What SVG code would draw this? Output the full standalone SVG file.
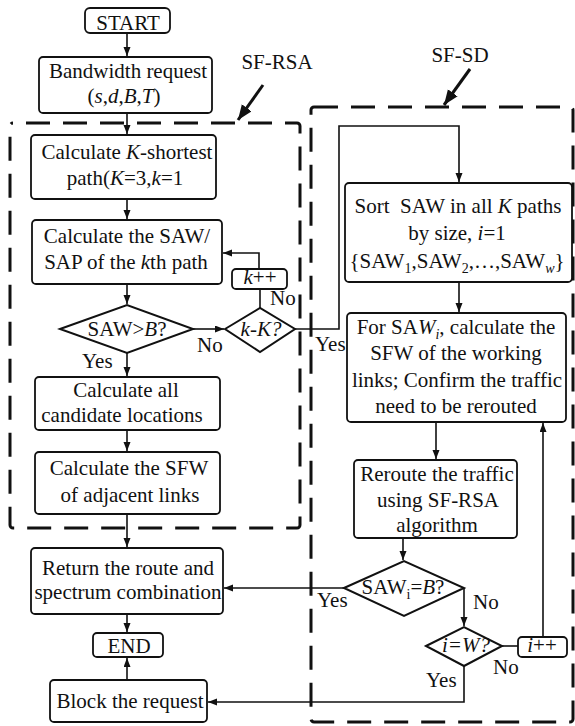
<svg xmlns="http://www.w3.org/2000/svg" width="575" height="726" viewBox="0 0 575 726">
  <style>
    .box { fill: #fff; stroke: #111; stroke-width: 1.8; }
    .dia { fill: #fff; stroke: #111; stroke-width: 2; }
    .t { font-family: "Liberation Serif", "Times New Roman", serif; font-size: 21px; fill: #111; text-anchor: middle; }
    .l { text-anchor: start; }
    .i { font-style: italic; }
    .conn { fill: none; stroke: #111; stroke-width: 1.6; }
    .region { fill: none; stroke: #111; stroke-width: 3; stroke-dasharray: 24 13; }
    .pointer { fill: none; stroke: #111; stroke-width: 3; }
  </style>
  <defs>
    <marker id="arrow" markerUnits="userSpaceOnUse" markerWidth="10" markerHeight="8" refX="9" refY="3.5" orient="auto">
      <path d="M0,0 L9,3.5 L0,7 z" fill="#111"/>
    </marker>
    <marker id="bigArrow" markerUnits="userSpaceOnUse" markerWidth="16" markerHeight="14" refX="15" refY="6" orient="auto">
      <path d="M0,0 L15,6 L0,12 z" fill="#111"/>
    </marker>
  </defs>

  <rect id="bg" width="575" height="726" fill="#fff"/>

  <!-- dashed regions -->
  <g id="regions">
    <rect id="sf-rsa-region" class="region" x="10" y="123" width="290" height="405" rx="3" stroke-dashoffset="-13"/>
    <rect id="sf-sd-region" class="region" x="311" y="107" width="262" height="615" rx="3"/>
    <line class="pointer" x1="263" y1="85" x2="238" y2="120" marker-end="url(#bigArrow)"/>
    <line class="pointer" x1="470" y1="69" x2="444" y2="105" marker-end="url(#bigArrow)"/>
    <text class="t" x="277" y="69">SF-RSA</text>
    <text class="t" x="460" y="62">SF-SD</text>
  </g>

  <!-- connectors -->
  <g id="connectors">
    <path class="conn" d="M127,33 V56" marker-end="url(#arrow)"/>
    <path class="conn" d="M127,113 V134" marker-end="url(#arrow)"/>
    <path class="conn" d="M127,199 V219" marker-end="url(#arrow)"/>
    <path class="conn" d="M127,284 V304" marker-end="url(#arrow)"/>
    <path class="conn" d="M193,329 H224" marker-end="url(#arrow)"/>
    <path class="conn" d="M260,308 V289"/>
    <path class="conn" d="M259,269 V253 H223" marker-end="url(#arrow)"/>
    <path class="conn" d="M127,353 V376" marker-end="url(#arrow)"/>
    <path class="conn" d="M127,430 V451" marker-end="url(#arrow)"/>
    <path class="conn" d="M127,514 V547" marker-end="url(#arrow)"/>
    <path class="conn" d="M127,614 V632" marker-end="url(#arrow)"/>
    <path class="conn" d="M127,680 V658" marker-end="url(#arrow)"/>
    <path class="conn" d="M295,329 H339 V126 H459 V182" marker-end="url(#arrow)"/>
    <path class="conn" d="M459,282 V312" marker-end="url(#arrow)"/>
    <path class="conn" d="M436,422 V459" marker-end="url(#arrow)"/>
    <path class="conn" d="M403,538 V560" marker-end="url(#arrow)"/>
    <path class="conn" d="M344,588 H224" marker-end="url(#arrow)"/>
    <path class="conn" d="M464,588 V626" marker-end="url(#arrow)"/>
    <path class="conn" d="M502,646 H518"/>
    <path class="conn" d="M543,637 V423" marker-end="url(#arrow)"/>
    <path class="conn" d="M464,666 V702 H208" marker-end="url(#arrow)"/>
    <!-- branch labels -->
    <text class="t l" x="270" y="305">No</text>
    <text class="t l" x="197" y="352">No</text>
    <text class="t l" x="82" y="368">Yes</text>
    <text class="t l" x="315" y="351">Yes</text>
    <text class="t l" x="317" y="607">Yes</text>
    <text class="t l" x="473" y="609">No</text>
    <text class="t l" x="426" y="687">Yes</text>
    <text class="t l" x="493" y="674">No</text>
  </g>

  <!-- left column -->
  <g id="start">
    <rect class="box" x="85" y="8" width="85" height="25" rx="5"/>
    <text class="t" x="128" y="30">START</text>
  </g>
  <g id="bandwidth-request">
    <rect class="box" x="39" y="57" width="173" height="56" rx="4"/>
    <text class="t" x="128" y="78">Bandwidth request</text>
    <text class="t" x="124" y="103">(<tspan class="i">s</tspan>,<tspan class="i">d</tspan>,<tspan class="i">B</tspan>,<tspan class="i">T</tspan>)</text>
  </g>
  <g id="k-shortest">
    <rect class="box" x="31" y="135" width="185" height="64" rx="4"/>
    <text class="t" x="127" y="159">Calculate <tspan class="i">K</tspan>-shortest</text>
    <text class="t" x="125" y="185">path(<tspan class="i">K</tspan>=3,<tspan class="i">k</tspan>=1</text>
  </g>
  <g id="saw-sap">
    <rect class="box" x="32" y="220" width="190" height="64" rx="4"/>
    <text class="t" x="127" y="243">Calculate the SAW/</text>
    <text class="t" x="126" y="269">SAP of the <tspan class="i">k</tspan>th path</text>
  </g>
  <g id="k-inc">
    <rect class="box" x="232" y="269" width="55" height="20" rx="4"/>
    <text class="t" x="260" y="284"><tspan class="i">k</tspan>++</text>
  </g>
  <g id="saw-gt-b">
    <polygon class="dia" points="60,329 127,305 193,329 127,353"/>
    <text class="t" x="127" y="336">SAW&gt;<tspan class="i">B</tspan>?</text>
  </g>
  <g id="k-check">
    <polygon class="dia" points="225,329 260,308 295,329 260,352"/>
    <text class="t i" x="261" y="336">k-K?</text>
  </g>
  <g id="candidates">
    <rect class="box" x="35" y="377" width="185" height="53" rx="4"/>
    <text class="t" x="126" y="397">Calculate all</text>
    <text class="t" x="122" y="422">candidate locations</text>
  </g>
  <g id="sfw-adjacent">
    <rect class="box" x="35" y="452" width="185" height="62" rx="4"/>
    <text class="t" x="129" y="475">Calculate the SFW</text>
    <text class="t" x="130" y="502">of adjacent links</text>
  </g>
  <g id="return-route">
    <rect class="box" x="31" y="548" width="192" height="66" rx="4"/>
    <text class="t" x="128" y="575">Return the route and</text>
    <text class="t" x="128" y="599">spectrum combination</text>
  </g>
  <g id="end">
    <rect class="box" x="93" y="633" width="70" height="24" rx="4"/>
    <text class="t" x="129" y="653">END</text>
  </g>
  <g id="block">
    <rect class="box" x="50" y="680" width="157" height="42" rx="4"/>
    <text class="t" x="130" y="708">Block the request</text>
  </g>

  <!-- right column -->
  <g id="sort-saw">
    <rect class="box" x="345" y="183" width="227" height="99" rx="4"/>
    <text class="t" x="458" y="213" xml:space="preserve">Sort  SAW in all <tspan class="i">K</tspan> paths</text>
    <text class="t" x="457" y="240">by size, <tspan class="i">i</tspan>=1</text>
    <text class="t" x="457" y="268">{SAW<tspan font-size="14" dy="5">1</tspan><tspan dy="-5">,SAW</tspan><tspan font-size="14" dy="5">2</tspan><tspan dy="-5">,…,SAW</tspan><tspan font-size="14" class="i" dy="5">w</tspan><tspan dy="-5">}</tspan></text>
  </g>
  <g id="working-links">
    <rect class="box" x="347" y="313" width="219" height="109" rx="4"/>
    <text class="t" x="456" y="334">For SA<tspan class="i">W</tspan><tspan class="i" font-size="14" dy="5">i</tspan><tspan dy="-5">, calculate the</tspan></text>
    <text class="t" x="456" y="360">SFW of the working</text>
    <text class="t" x="457" y="387">links; Confirm the traffic</text>
    <text class="t" x="456" y="413">need to be rerouted</text>
  </g>
  <g id="reroute">
    <rect class="box" x="354" y="460" width="163" height="78" rx="4"/>
    <text class="t" x="437" y="481">Reroute the traffic</text>
    <text class="t" x="438" y="507">using SF-RSA</text>
    <text class="t" x="437" y="532">algorithm</text>
  </g>
  <g id="saw-eq-b">
    <polygon class="dia" points="344,588 404,561 464,588 404,616"/>
    <text class="t" x="403" y="594">SAW<tspan font-size="14" dy="5">i</tspan><tspan dy="-5">=</tspan><tspan class="i">B</tspan>?</text>
  </g>
  <g id="i-check">
    <polygon class="dia" points="426,646 464,627 502,646 464,666"/>
    <text class="t i" x="466" y="652">i=W?</text>
  </g>
  <g id="i-inc">
    <rect class="box" x="518" y="637" width="49" height="20" rx="4"/>
    <text class="t" x="542" y="652"><tspan class="i">i</tspan>++</text>
  </g>
</svg>
